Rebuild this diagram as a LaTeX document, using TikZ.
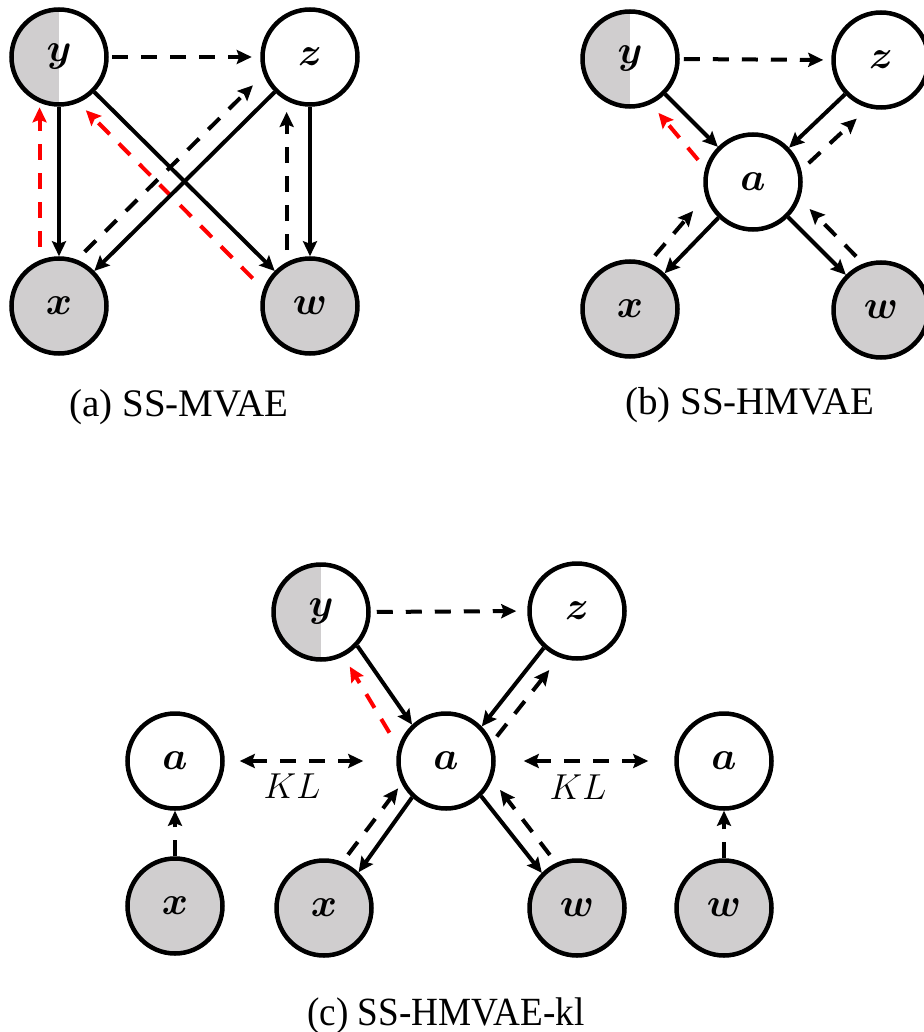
\documentclass[tikz,border=0pt]{standalone}
\usepackage{amsmath,bm}
\usepackage{graphicx}
\usepackage{fontspec}
\setmainfont{Liberation Serif}
\usetikzlibrary{arrows.meta,calc}
\definecolor{obsgrey}{RGB}{208,206,207}
% math letters set at the largest CM size, then enlarged
\newcommand{\vlab}[1]{\scalebox{1.6}{$\boldsymbol{#1}$}}
\newcommand{\klab}{\scalebox{1.45}{$KL$}}

\begin{document}
\begin{tikzpicture}[x=1pt,y=-1pt,
  var/.style={circle,draw=black,line width=4.5pt,minimum size=95pt,inner sep=0pt,
    font=\fontsize{24.88}{30}\selectfont},
  obs/.style={var,fill=obsgrey},
  half/.style={var,path picture={\fill[obsgrey] (path picture bounding box.south west)
    rectangle (path picture bounding box.north);}},
  tip/.tip={Stealth[length=15pt,width=14pt,inset=2.5pt]},
  gen/.style={line width=4pt,-tip},
  infer/.style={gen,dash pattern=on 16pt off 13pt},
  redinf/.style={infer,draw=red},
  kl/.style={line width=4pt,tip-tip,dash pattern=on 16pt off 13pt},
  capt/.style={font=\fontsize{39}{44}\selectfont,inner sep=0pt},
  kltext/.style={font=\fontsize{24.88}{30}\selectfont,inner sep=0pt}
]
\useasboundingbox (0,0) rectangle (923,1032);

% ---------- (a) SS-MVAE ----------
\node[half] (ya) at (59,57)  {\vlab{y}};
\node[var]  (za) at (310,57) {\vlab{z}};
\node[obs]  (xa) at (59,306) {\vlab{x}};
\node[obs]  (wa) at (310,306) {\vlab{w}};

\draw[infer,shorten <=3.5pt,shorten >=8.5pt] (ya.east) -- (za.west);
\draw[gen] (ya.south) -- (xa.north);
\draw[redinf,shorten <=13.5pt,shorten >=4.5pt] (xa.113) -- (ya.-113);
\draw[gen] (za.south) -- (wa.north);
\draw[infer,shorten <=12pt,shorten >=11pt] (wa.118) -- (za.-118);
\draw[gen] (ya) -- (wa);
\draw[redinf,shorten <=15pt,shorten >=10.5pt] (wa.160) -- (ya.-67);
\draw[gen] (za) -- (xa);
\draw[infer,shorten <=11pt,shorten >=15pt] (xa.69) -- (za.-159);

\node[capt] (capa) at (179,407) {(a) SS-MVAE};

% ---------- (b) SS-HMVAE ----------
\node[half] (yb) at (630,59)  {\vlab{y}};
\node[var]  (zb) at (881,60)  {\vlab{z}};
\node[var]  (ab) at (753,182) {\vlab{a}};
\node[obs]  (xb) at (630,309) {\vlab{x}};
\node[obs]  (wb) at (881,310) {\vlab{w}};

\draw[infer,shorten <=4pt,shorten >=8pt] (yb.east) -- (zb.west);
\draw[gen] (yb) -- (ab);
\draw[redinf,shorten <=11pt,shorten >=11.5pt] (ab.164) -- (yb.-65);
\draw[gen] (zb) -- (ab);
\draw[infer,shorten <=10pt,shorten >=15.5pt] (ab.14) -- (zb.-105);
\draw[gen] (ab) -- (xb);
\draw[infer,shorten <=9.5pt,shorten >=19pt] (xb.68) -- (ab.-163);
\draw[gen] (ab) -- (wb);
\draw[infer,shorten <=10pt,shorten >=14pt] (wb.111) -- (ab.-20.5);

\node[capt] (capb) at (750,405) {(b) SS-HMVAE};

% ---------- (c) SS-HMVAE-kl ----------
\node[half] (yc) at (321,612) {\vlab{y}};
\node[var]  (zc) at (577,611) {\vlab{z}};
\node[var]  (ac) at (446,761) {\vlab{a}};
\node[var]  (al) at (175,761) {\vlab{a}};
\node[var]  (ar) at (724,761) {\vlab{a}};
\node[obs]  (xl) at (175,906) {\vlab{x}};
\node[obs]  (xc) at (324,908) {\vlab{x}};
\node[obs]  (wc) at (577,908) {\vlab{w}};
\node[obs]  (wr) at (724,908) {\vlab{w}};

\draw[infer,shorten <=6pt,shorten >=11pt] (yc.east) -- (zc.west);
\draw[gen] (yc.-43) -- (ac.133);
\draw[redinf,shorten <=17pt,shorten >=12pt] (ac.164) -- (yc.-63);
\draw[gen] (zc.-132) -- (ac.44);
\draw[infer,shorten <=7.5pt,shorten >=16pt] (ac.22) -- (zc.-111);
\draw[gen] (ac.-133) -- (xc.46);
\draw[infer,shorten <=9pt,shorten >=6pt] (xc.68) -- (ac.-153);
\draw[gen] (ac.-45) -- (wc.135);
\draw[infer,shorten <=10pt,shorten >=13pt] (wc.115) -- (ac.-22);

\draw[kl,shorten <=15pt,shorten >=33pt] (al.east) -- (ac.west);
\draw[kl,shorten <=28pt,shorten >=26pt] (ac.east) -- (ar.west);
\node[kltext] (kll) at (292,786) {\klab};
\node[kltext] (klr) at (578,787) {\klab};

\draw[infer] (xl.north) -- (al.south);
\draw[infer] (wr.north) -- (ar.south);

\node[capt,font=\fontsize{40}{44}\selectfont,anchor=base] (capc) at (446,1025)
  {\scalebox{0.93}[1]{(c) SS-HMVAE-kl}};
\end{tikzpicture}
\end{document}
